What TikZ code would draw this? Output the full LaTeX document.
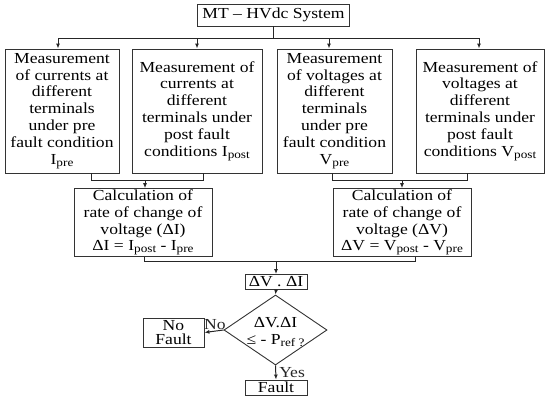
\documentclass[tikz,border=0pt]{standalone}
\usepackage{fontspec}
\setmainfont{Liberation Serif}[FakeStretch=1.15]
\usetikzlibrary{shapes.geometric,arrows.meta}
\newcommand{\lowsub}[1]{\raisebox{-0.3ex}{\fontsize{11.5}{11.5}\selectfont #1}}
\tikzset{
 box/.style={draw=black!80, line width=0.9pt, align=center, inner sep=1pt, font=\fontsize{15.3}{16.8}\selectfont},
 conn/.style={line width=1pt, black!85},
 arr/.style={conn, -{Latex[length=5pt,width=4pt]}},
 lbl/.style={font=\fontsize{15.3}{16.8}\selectfont, inner sep=1pt},
}
\begin{document}
\begin{tikzpicture}[x=1pt,y=-1pt]
\useasboundingbox (0,0) rectangle (550,400);
\node[box, minimum width=152pt, minimum height=22pt] (top) at (273.5,15) {MT – HVdc System};
\node[box, minimum width=114pt, minimum height=124pt] (b1) at (62,111) {Measurement\\of currents at\\different\\terminals\\under pre\\fault condition\\I\lowsub{pre}};
\node[box, minimum width=130pt, minimum height=124pt] (b2) at (197,111) {Measurement of\\currents at\\different\\terminals under\\post fault\\conditions I\lowsub{post}};
\node[box, minimum width=115pt, minimum height=124pt] (b3) at (334.5,111) {Measurement\\of voltages at\\different\\terminals\\under pre\\fault condition\\V\lowsub{pre}};
\node[box, minimum width=128pt, minimum height=124pt] (b4) at (480,111) {Measurement of\\voltages at\\different\\terminals under\\post fault\\conditions V\lowsub{post}};
\node[box, minimum width=138pt, minimum height=65pt] (c1) at (143,222.5) {Calculation of\\rate of change of\\voltage (ΔI)\\ΔI = I\lowsub{post} - I\lowsub{pre}};
\node[box, minimum width=138pt, minimum height=65pt] (c2) at (402,222.5) {Calculation of\\rate of change of\\voltage (ΔV)\\ΔV = V\lowsub{post} - V\lowsub{pre}};
\node[box, minimum width=62pt, minimum height=15pt, inner sep=0pt] (dvdi) at (276,282) {ΔV . ΔI};
\node[draw=black!80, line width=0.9pt, diamond, minimum width=103pt, minimum height=70pt, inner sep=0pt] (dec) at (275.5,330) {};
\node[lbl, align=center] (dectext) at (275.5,332) {ΔV.ΔI\\≤ - P\lowsub{ref ?}};
\node[box, minimum width=61pt, minimum height=29pt, inner sep=0pt] (nf) at (173.5,332.5) {No\\[-2pt]Fault};
\node[box, minimum width=62pt, minimum height=15pt, inner sep=0pt] (f) at (276,387.5) {Fault};
% top distribution
\coordinate (t0) at (273.5,38);
\coordinate (t1) at (58,38);
\coordinate (t2) at (197,38);
\coordinate (t3) at (329,38);
\coordinate (t4) at (479,38);
\draw[conn] (top.south) -- (t0);
\draw[conn] (t1) -- (t4);
\draw[arr] (t1) -- (t1 |- b1.north);
\draw[arr] (t2) -- (t2 |- b2.north);
\draw[arr] (t3) -- (t3 |- b3.north);
\draw[arr] (t4) -- (t4 |- b4.north);
% currents merge
\coordinate (m1) at (91,180);
\coordinate (m2) at (203,180);
\coordinate (m0) at (145,180);
\draw[conn] (m1 |- b1.south) -- (m1) -- (m2) -- (m2 |- b2.south);
\draw[arr] (m0) -- (m0 |- c1.north);
% voltages merge
\coordinate (v1) at (332,180);
\coordinate (v2) at (467,180);
\coordinate (v0) at (402,180);
\draw[conn] (v1 |- b3.south) -- (v1) -- (v2) -- (v2 |- b4.south);
\draw[arr] (v0) -- (v0 |- c2.north);
% calc merge
\coordinate (k1) at (144,261);
\coordinate (k2) at (415,261);
\coordinate (k0) at (276,261);
\draw[conn] (k1 |- c1.south) -- (k1) -- (k2) -- (k2 |- c2.south);
\draw[arr] (k0) -- (dvdi.north);
\draw[arr] (dvdi.south) -- (dec.north);
\draw[arr] (dec.west) -- (nf.east) node[lbl, pos=0.45, above] {No};
\draw[arr] (dec.south) -- (f.north) node[lbl, midway, right, xshift=2pt] {Yes};
\end{tikzpicture}
\end{document}
